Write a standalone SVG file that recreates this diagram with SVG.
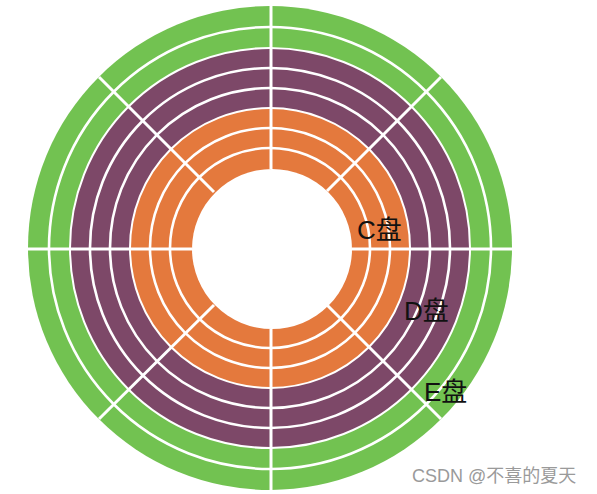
<svg xmlns="http://www.w3.org/2000/svg" width="597" height="494" viewBox="0 0 597 494">
<style>
.sep{fill:none;stroke:#ffffff;stroke-width:2.6}
.edge{fill:none;stroke:#ffffff;stroke-width:2}
.rad{stroke:#ffffff;stroke-width:3;stroke-linecap:butt}
.lbl{font-family:"Liberation Sans","Noto Sans CJK SC",sans-serif;font-size:26px;fill:#111111}
.wm{font-family:"Liberation Sans","Noto Sans CJK SC",sans-serif;font-size:18px;fill:#9a9a9a}
</style>
<rect width="597" height="494" fill="#ffffff"/>
<g id="disk">
  <g id="zone-E">
    <circle cx="270" cy="248" r="242" fill="#72c251"/>
    <circle class="sep" cx="270" cy="248" r="221"/>
  </g>
  <g id="zone-D">
    <circle cx="270" cy="248" r="200" fill="#7d4868"/>
    <circle class="edge" cx="270" cy="248" r="200"/>
    <circle class="sep" cx="270" cy="248" r="180"/>
    <circle class="sep" cx="270" cy="248" r="160"/>
  </g>
  <g id="zone-C">
    <circle cx="270" cy="248" r="140" fill="#e4793d"/>
    <circle class="edge" cx="270" cy="248" r="140"/>
    <circle class="sep" cx="270" cy="248" r="120"/>
    <circle class="sep" cx="270" cy="248" r="100"/>
  </g>
  <g id="hole">
    <circle cx="272" cy="249" r="80" fill="#ffffff"/>
  </g>
</g>
<g id="connectors">
  <line class="rad" x1="271" y1="4" x2="271" y2="169"/>
  <line class="rad" x1="271" y1="329" x2="271" y2="491"/>
  <line class="rad" x1="27" y1="249" x2="192" y2="249"/>
  <line class="rad" x1="352" y1="249" x2="512" y2="249"/>
  <line class="rad" x1="99" y1="77" x2="214" y2="192"/>
  <line class="rad" x1="441" y1="77" x2="327" y2="191"/>
  <line class="rad" x1="99" y1="419" x2="214" y2="305"/>
  <line class="rad" x1="441" y1="419" x2="327" y2="305"/>
</g>
<g id="labels">
  <text class="lbl" x="357" y="239">C盘</text>
  <text class="lbl" x="404" y="320">D盘</text>
  <text class="lbl" x="424" y="401">E盘</text>
</g>
<text class="wm" x="412" y="482">CSDN @不喜的夏天</text>
</svg>
